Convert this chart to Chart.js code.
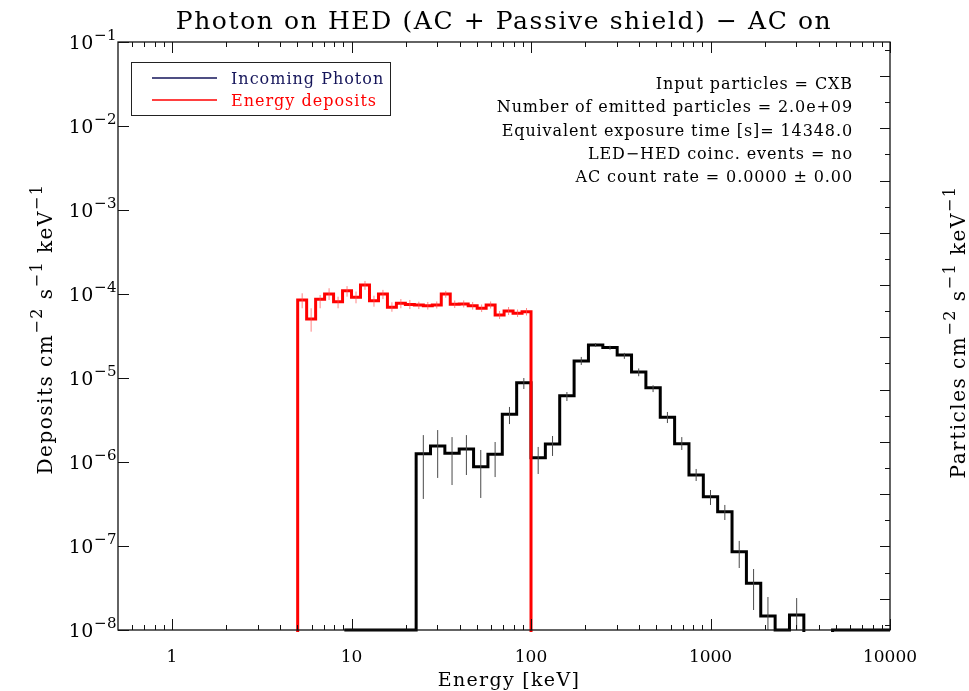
<!DOCTYPE html>
<html>
<head>
<meta charset="utf-8">
<script src="https://cdn.jsdelivr.net/npm/chart.js@4.4.1/dist/chart.umd.min.js"></script>
<style>
  html, body { margin: 0; padding: 0; background: #fff; }
  #wrap { width: 969px; height: 691px; }
</style>
</head>
<body>
<div id="wrap"><canvas id="chart"></canvas></div>
<script>
/* ---------- values ---------- */
// incoming photon spectrum (black), log bins, keV
const photonEdges = [9.12, 10.96, 13.18, 15.85, 19.05, 22.91, 27.54, 33.11, 39.81, 47.86,
  57.54, 69.18, 83.18, 100, 120.2, 144.5, 173.8, 208.9, 251.2, 302.0, 363.1, 436.5, 524.8,
  631.0, 758.6, 912.0, 1096, 1318, 1585, 1905, 2291, 2754, 3311, 3981, 4786, 5754, 6918,
  8318, 10000];
const photonFlux = [1e-8, 1e-8, 1e-8, 1e-8, 1e-8, 1.25e-6, 1.55e-6, 1.27e-6, 1.43e-6, 8.8e-7,
  1.24e-6, 3.7e-6, 8.8e-6, 1.12e-6, 1.64e-6, 6.15e-6, 1.59e-5, 2.47e-5, 2.30e-5, 1.88e-5,
  1.18e-5, 7.67e-6, 3.40e-6, 1.65e-6, 7.0e-7, 3.86e-7, 2.56e-7, 8.55e-8, 3.60e-8, 1.47e-8,
  1e-8, 1.51e-8, 1e-10, 1e-10, 1e-8, 1e-8, 1e-8, 1e-8];
const photonErrLo = [null, null, null, null, null, 3.63e-7, 6.46e-7, 5.32e-7, 7.0e-7, 3.73e-7,
  6.62e-7, 2.83e-6, 7.4e-6, 7.2e-7, 1.18e-6, 5.32e-6, 1.43e-5, 2.34e-5, 2.17e-5, 1.69e-5,
  1.05e-5, 6.8e-6, 2.91e-6, 1.39e-6, 5.94e-7, 3.08e-7, 2.04e-7, 5.47e-8, 1.73e-8, 1e-8,
  null, 1e-8, null, null, null, null, null, null];
const photonErrHi = [null, null, null, null, null, 2.09e-6, 2.40e-6, 1.98e-6, 2.09e-6, 1.39e-6,
  1.73e-6, 4.52e-6, 1.0e-5, 1.51e-6, 2.04e-6, 6.81e-6, 1.78e-5, 2.61e-5, 2.42e-5, 1.99e-5,
  1.3e-5, 8.2e-6, 3.94e-6, 1.98e-6, 8.26e-7, 4.64e-7, 3.08e-7, 1.15e-7, 5.32e-8, 2.47e-8,
  null, 2.40e-8, null, null, null, null, null, null];

// energy deposits (red)
const depositEdges = [5.012, 5.623, 6.310, 7.079, 7.943, 8.913, 10.0, 11.22, 12.59, 14.13,
  15.85, 17.78, 19.95, 22.39, 25.12, 28.18, 31.62, 35.48, 39.81, 44.67, 50.12, 56.23, 63.10,
  70.79, 79.43, 89.13, 100.0];
const depositFlux = [8.49e-5, 5.04e-5, 8.65e-5, 1.00e-4, 8.10e-5, 1.09e-4, 9.14e-5, 1.28e-4,
  8.32e-5, 1.00e-4, 6.95e-5, 7.75e-5, 7.50e-5, 7.40e-5, 7.26e-5, 7.40e-5, 1.00e-4, 7.54e-5,
  7.60e-5, 7.26e-5, 6.76e-5, 7.40e-5, 5.62e-5, 6.28e-5, 5.89e-5, 6.15e-5];
const depositErrLo = [6.76e-5, 3.56e-5, 6.76e-5, 8.49e-5, 6.76e-5, 9.29e-5, 7.75e-5, 1.12e-4,
  7.06e-5, 8.71e-5, 6.15e-5, 6.76e-5, 6.62e-5, 6.62e-5, 6.53e-5, 6.72e-5, 9.04e-5, 6.81e-5,
  6.91e-5, 6.53e-5, 6.11e-5, 6.72e-5, 5.04e-5, 5.62e-5, 5.32e-5, 5.55e-5];
const depositErrHi = [1.02e-4, 6.76e-5, 9.73e-5, 1.17e-4, 9.29e-5, 1.24e-4, 1.07e-4, 1.43e-4,
  9.55e-5, 1.12e-4, 7.97e-5, 8.71e-5, 8.49e-5, 8.10e-5, 8.04e-5, 8.15e-5, 1.09e-4, 8.38e-5,
  8.38e-5, 8.04e-5, 7.50e-5, 8.15e-5, 6.28e-5, 7.00e-5, 6.53e-5, 6.81e-5];

/* ---------- axes / texts ---------- */
const xRange = [0.5, 10000];
const yRange = [1e-8, 1e-1];
const rightRange = [6.31e-14, 2.0e9];       // unlabeled "Particles" axis
const xMajorTicks = [1, 10, 100, 1000, 10000];
const xTickLabels = ["1", "10", "100", "1000", "10000"];
const yMajorTicks = [1e-8, 1e-7, 1e-6, 1e-5, 1e-4, 1e-3, 1e-2, 1e-1];
const yTickExps = ["\u22128", "\u22127", "\u22126", "\u22125", "\u22124", "\u22123", "\u22122", "\u22121"];
const rightTicks = [1e-13, 1e-12, 1e-11, 1e-10, 1e-9, 1e-8, 1e-7, 1e-6, 1e-5, 1e-4, 1e-3,
  1e-2, 1e-1, 1, 1e1, 1e2, 1e3, 1e4, 1e5, 1e6, 1e7, 1e8, 1e9];

const titleText = "Photon on HED (AC + Passive shield) \u2212 AC on";
const xTitle = "Energy [keV]";
const yTitleParts = [{ t: "Deposits cm" }, { t: "\u22122", sup: true }, { t: " s" },
  { t: "\u22121", sup: true }, { t: " keV" }, { t: "\u22121", sup: true }];
const y2TitleParts = [{ t: "Particles cm" }, { t: "\u22122", sup: true }, { t: " s" },
  { t: "\u22121", sup: true }, { t: " keV" }, { t: "\u22121", sup: true }];
const legendLabels = ["Incoming Photon", "Energy deposits"];
const legendColors = ["#15155a", "#ff0000"];
const infoLines = [
  "Input particles = CXB",
  "Number of emitted particles = 2.0e+09",
  "Equivalent exposure time [s]= 14348.0",
  "LED\u2212HED coinc. events = no",
  "AC count rate = 0.0000 \u00b1 0.00"
];

const FONT = '"DejaVu Serif", "Liberation Serif", serif';
const OFF_AXIS = 1e-10;   // below the plot floor, used for the vertical edges

/* ---------- helpers ---------- */
// histogram outline: one point per left edge, stepped line does the rest
function stepPoints(edges, vals, closeEnds) {
  const pts = vals.map((v, i) => ({ x: edges[i], y: v }));
  pts.push({ x: edges[vals.length], y: vals[vals.length - 1] });
  if (closeEnds) {
    pts.unshift({ x: edges[0], y: OFF_AXIS });
    pts.push({ x: edges[vals.length], y: OFF_AXIS });
  }
  return pts;
}

// vertical error bars at the log-centre of every bin, separated by gaps
function errPoints(edges, lo, hi) {
  const pts = [];
  lo.forEach((l, i) => {
    if (l == null) return;
    const c = Math.sqrt(edges[i] * edges[i + 1]);
    pts.push({ x: c, y: l }, { x: c, y: hi[i] }, { x: c, y: null });
  });
  return pts;
}

const xMinorTicks = [0.6, 0.7, 0.8, 0.9];
[1, 10, 100, 1000].forEach(d => {
  for (let m = 2; m <= 9; m++) xMinorTicks.push(m * d);
});

function setTicks(list, isMajor) {
  return scale => {
    scale.ticks = list.map(v => ({ value: v, major: isMajor(v) }));
  };
}

function richText(ctx, parts, x, y, size, align, spacing) {
  const small = Math.round(size * 0.78);
  ctx.letterSpacing = (spacing || 0) + "px";
  let total = 0;
  const widths = parts.map(p => {
    ctx.font = (p.sup ? small : size) + "px " + FONT;
    const w = ctx.measureText(p.t).width;
    total += w;
    return w;
  });
  let cx = align === "center" ? x - total / 2 : align === "right" ? x - total : x;
  parts.forEach((p, i) => {
    ctx.font = (p.sup ? small : size) + "px " + FONT;
    ctx.fillText(p.t, cx, p.sup ? y - size * 0.5 : y);
    cx += widths[i];
  });
  ctx.letterSpacing = "0px";
}

/* ---------- frame, inward ticks, labels, legend, notes ---------- */
const idlDecor = {
  id: "idlDecor",
  afterDraw(chart) {
    const { ctx, chartArea: a } = chart;
    const { x, y, y2 } = chart.scales;
    ctx.save();
    ctx.textAlign = "left";
    ctx.textBaseline = "alphabetic";
    ctx.fillStyle = "#000";

    ctx.strokeStyle = "#111";
    ctx.lineWidth = 1.3;
    ctx.strokeRect(a.left, a.top, a.right - a.left, a.bottom - a.top);

    ctx.lineWidth = 1;
    ctx.beginPath();
    x.ticks.forEach(t => {
      const px = Math.round(x.getPixelForValue(t.value)) + 0.5;
      const len = t.major ? 11 : 5;
      ctx.moveTo(px, a.bottom); ctx.lineTo(px, a.bottom - len);
      ctx.moveTo(px, a.top); ctx.lineTo(px, a.top + len);
    });
    y.ticks.forEach(t => {
      const py = Math.round(y.getPixelForValue(t.value)) + 0.5;
      ctx.moveTo(a.left, py); ctx.lineTo(a.left + 11, py);
    });
    y2.ticks.forEach(t => {
      const py = Math.round(y2.getPixelForValue(t.value)) + 0.5;
      const len = t.major ? 10 : 5;
      ctx.moveTo(a.right, py); ctx.lineTo(a.right - len, py);
    });
    ctx.stroke();

    // tick labels
    ctx.font = "17px " + FONT;
    ctx.textAlign = "center";
    xMajorTicks.forEach((v, i) => {
      ctx.fillText(xTickLabels[i], x.getPixelForValue(v), 662);
    });
    ctx.textAlign = "left";
    yMajorTicks.forEach((v, i) => {
      richText(ctx, [{ t: "10" }, { t: yTickExps[i], sup: true }], 117, y.getPixelForValue(v) + 7, 19, "right", 0.5);
    });

    // axis titles
    richText(ctx, [{ t: xTitle }], 509, 686, 19, "center", 1.3);
    ctx.save();
    ctx.translate(52, 329);
    ctx.rotate(-Math.PI / 2);
    richText(ctx, yTitleParts, 0, 0, 20, "center", 1.5);
    ctx.restore();
    ctx.save();
    ctx.translate(965, 332);
    ctx.rotate(-Math.PI / 2);
    richText(ctx, y2TitleParts, 0, 0, 20, "center", 1.5);
    ctx.restore();

    // title
    richText(ctx, [{ t: titleText }], 504, 29, 25, "center", 1.6);

    // legend box
    ctx.strokeStyle = "#222";
    ctx.lineWidth = 1;
    ctx.strokeRect(131.5, 62.5, 259, 53);
    ctx.lineWidth = 1.6;
    legendLabels.forEach((lab, i) => {
      const ly = 78 + i * 22;
      ctx.strokeStyle = legendColors[i];
      ctx.beginPath(); ctx.moveTo(152, ly); ctx.lineTo(217, ly); ctx.stroke();
      ctx.fillStyle = legendColors[i];
      richText(ctx, [{ t: lab }], 231, ly + 6, 16, "left", 1);
    });

    // run info
    ctx.fillStyle = "#000";
    infoLines.forEach((line, i) => richText(ctx, [{ t: line }], 853, 89 + i * 23.3, 16, "right", 0.9));
    ctx.restore();
  }
};

/* ---------- chart ---------- */
const ctx = document.getElementById("chart").getContext("2d");
new Chart(ctx, {
  type: "line",
  data: {
    datasets: [
      { label: "deposit errors", data: errPoints(depositEdges, depositErrLo, depositErrHi),
        borderColor: "rgba(255,80,80,0.7)", borderWidth: 1, clip: 1 },
      { label: "photon errors", data: errPoints(photonEdges, photonErrLo, photonErrHi),
        borderColor: "#4a4a4a", borderWidth: 1, clip: 1 },
      { label: legendLabels[1], data: stepPoints(depositEdges, depositFlux, true),
        borderColor: "#ff0000", borderWidth: 3, stepped: "before", clip: 2 },
      { label: legendLabels[0], data: stepPoints(photonEdges, photonFlux, false),
        borderColor: "#000000", borderWidth: 3, stepped: "before", clip: 2 }
    ]
  },
  options: {
    responsive: true,
    maintainAspectRatio: false,
    devicePixelRatio: 1,
    animation: false,
    events: [],
    layout: { padding: { left: 118, top: 42, right: 79, bottom: 61 } },
    elements: {
      point: { radius: 0 },
      line: { tension: 0, borderJoinStyle: "miter", borderCapStyle: "butt", fill: false }
    },
    plugins: { legend: { display: false }, tooltip: { enabled: false } },
    scales: {
      x: {
        type: "logarithmic", min: xRange[0], max: xRange[1], display: false,
        ticks: { display: false, autoSkip: false },
        afterBuildTicks: setTicks(xMajorTicks.concat(xMinorTicks), v => xMajorTicks.includes(v))
      },
      y: {
        type: "logarithmic", min: yRange[0], max: yRange[1], display: false,
        ticks: { display: false, autoSkip: false },
        afterBuildTicks: setTicks(yMajorTicks, () => true)
      },
      y2: {
        type: "logarithmic", position: "right", min: rightRange[0], max: rightRange[1], display: false,
        ticks: { display: false, autoSkip: false },
        afterBuildTicks: setTicks(rightTicks, v => Math.round(Math.log10(v)) % 2 === 0)
      }
    }
  },
  plugins: [idlDecor]
});
</script>
</body>
</html>
